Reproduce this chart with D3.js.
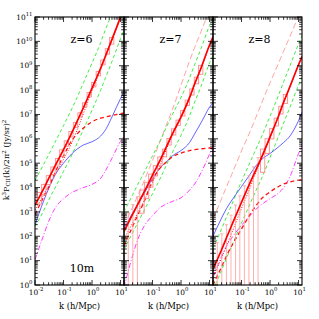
<!DOCTYPE html>
<html><head><meta charset="utf-8">
<script src="https://cdn.jsdelivr.net/npm/d3@7"></script>
<style>html,body{margin:0;padding:0;background:#fff}svg{display:block}</style>
</head><body>
<svg id="chart" width="319" height="319"></svg>
<script>
// ---------------- data ----------------
const panelLabels = ["z=6", "z=7", "z=8"];
const telescopeLabel = "10m";
const xTitle = "k (h/Mpc)";
const yTickExps = [0,1,2,3,4,5,6,7,8,9,10,11];
const xTickExps = [-2,-1,0,1];

// common k grid for the model curves (h/Mpc)
const kGrid = [0.01, 0.02, 0.03, 0.05, 0.1, 0.2, 0.3, 0.5, 1, 2, 3, 5, 10, 13.5];

// z = 6
const redSolid6  = [1.9e3, 8.9e3, 2.3e4, 7.6e4, 3.6e5, 1.9e6, 5.2e6, 1.9e7, 1.2e8, 7.9e8, 2.6e9, 1.2e10, 1.0e11, 2.5e11];
const redDotted6 = [1.2e3, 5.0e3, 1.2e4, 3.4e4, 1.4e5, 7.4e5, 2.3e6, 1.1e7, 9.3e7, 7.1e8, 2.5e9, 1.1e10, 9.5e10, 2.4e11];
const redDashed6 = [7.9e2, 4.0e3, 1.0e4, 4.0e4, 2.0e5, 8.9e5, 1.6e6, 2.8e6, 5.0e6, 7.1e6, 7.9e6, 9.1e6, 1.07e7, 1.15e7];
const greenHi6   = [2.0e4, 8.9e4, 2.2e5, 7.1e5, 3.5e6, 1.8e7, 5.0e7, 2.0e8, 1.3e9, 8.9e9, 3.2e10, 1.4e11, 1.0e12, 2.5e12];
const greenLo6   = [2.5e2, 1.1e3, 3.0e3, 9.5e3, 4.6e4, 2.3e5, 6.6e5, 2.4e6, 1.5e7, 1.0e8, 3.3e8, 1.5e9, 1.3e10, 3.2e10];
const blue6      = [2.9e2, 2.8e3, 8.9e3, 3.2e4, 1.0e5, 2.5e5, 3.8e5, 5.6e5, 7.6e5, 1.3e6, 2.4e6, 7.9e6, 4.5e7, 8.9e7];
const magenta6   = [11, 1.1e2, 4.0e2, 1.4e3, 3.5e3, 6.3e3, 7.9e3, 1.0e4, 1.35e4, 2.4e4, 5.0e4, 1.6e5, 7.9e5, 1.3e6];
const pink6      = [null, null, null, null, null, null, null, null, null, null, null, null, null, null];

// z = 7
const redSolid7  = [1.6e2, 7.9e2, 2.0e3, 6.3e3, 3.2e4, 1.6e5, 4.5e5, 1.6e6, 7.9e6, 5.0e7, 1.8e8, 7.9e8, 7.1e9, 1.6e10];
const redDotted7 = [79, 3.5e2, 8.9e2, 2.8e3, 1.6e4, 1.0e5, 3.5e5, 1.4e6, 7.4e6, 4.8e7, 1.7e8, 7.6e8, 6.8e9, 1.5e10];
const redDashed7 = [40, 2.5e2, 7.1e2, 2.5e3, 2.0e4, 7.1e4, 1.1e5, 1.8e5, 2.6e5, 3.3e5, 3.6e5, 3.9e5, 4.2e5, 4.3e5];
const greenHi7   = [1.0e3, 5.0e3, 1.3e4, 4.0e4, 2.0e5, 1.0e6, 2.8e6, 1.0e7, 5.0e7, 3.2e8, 1.1e9, 5.0e9, 4.5e10, 1.0e11];
const greenLo7   = [28, 1.4e2, 3.5e2, 1.1e3, 5.6e3, 2.8e4, 7.9e4, 2.8e5, 1.4e6, 8.9e6, 3.2e7, 1.4e8, 1.3e9, 2.8e9];
const blue7      = [2.1e2, 8.9e2, 2.0e3, 5.6e3, 2.3e4, 7.1e4, 1.1e5, 2.0e5, 3.3e5, 7.1e5, 1.6e6, 4.5e6, 2.0e7, 3.2e7];
const magenta7   = [0.8, 16, 71, 2.5e2, 7.1e2, 1.6e3, 2.1e3, 2.7e3, 3.8e3, 7.9e3, 1.4e4, 4.0e4, 2.4e5, 5.6e5];
const pink7      = [2.5e2, 1.6e3, 4.5e3, 1.8e4, 1.3e5, 1.0e6, 3.5e6, 1.6e7, 1.6e8, 1.6e9, 5.6e9, 2.5e10, 2.0e11, 5.0e11];

// z = 8
const redSolid8  = [4.5, 28, 89, 3.7e2, 2.5e3, 1.6e4, 4.5e4, 1.7e5, 1.2e6, 8.9e6, 3.2e7, 1.4e8, 1.1e9, 2.5e9];
const redDotted8 = [2.0, 13, 40, 1.8e2, 1.4e3, 1.0e4, 3.5e4, 1.5e5, 1.1e6, 8.5e6, 3.0e7, 1.35e8, 1.07e9, 2.4e9];
const redDashed8 = [1.0, 5.6, 16, 50, 2.0e2, 7.9e2, 1.6e3, 3.5e3, 6.6e3, 1.1e4, 1.4e4, 1.7e4, 2.0e4, 2.1e4];
const greenHi8   = [32, 2.0e2, 6.3e2, 2.6e3, 1.8e4, 1.1e5, 3.2e5, 1.2e6, 8.5e6, 6.3e7, 2.2e8, 1.0e9, 7.9e9, 1.8e10];
const greenLo8   = [0.63, 4.0, 13, 52, 3.5e2, 2.2e3, 6.3e3, 2.3e4, 1.7e5, 1.3e6, 4.5e6, 2.0e7, 1.6e8, 3.5e8];
const blue8      = [1.0e2, 5.6e2, 1.4e3, 3.5e3, 1.1e4, 3.5e4, 7.1e4, 1.4e5, 2.5e5, 4.7e5, 7.1e5, 1.3e6, 5.6e6, 1.3e7];
const magenta8   = [2.2, 15, 40, 1.0e2, 2.8e2, 7.1e2, 1.2e3, 2.0e3, 3.5e3, 6.0e3, 1.0e4, 2.8e4, 2.5e5, 5.6e5];
const pink8      = [5.0e2, 3.5e3, 1.1e4, 4.5e4, 3.2e5, 2.0e6, 6.3e6, 2.8e7, 2.0e8, 1.3e9, 4.0e9, 1.6e10, 1.1e11, 2.5e11];

// measured band powers (k bins) with relative errors
const binK  = [0.0141, 0.0204, 0.0295, 0.0427, 0.0617, 0.0871, 0.126, 0.182, 0.263, 0.380, 0.550, 0.794, 1.15, 1.66, 2.40, 3.47, 4.90];
const binP6 = [4.2e3, 9.3e3, 2.2e4, 5.2e4, 1.2e5, 2.7e5, 6.6e5, 1.6e6, 3.8e6, 9.8e6, 2.5e7, 6.6e7, 1.7e8, 4.8e8, 1.4e9, 4.0e9, 1.1e10];
const sig6  = [0.5, 0.45, 0.4, 0.35, 0.3, 0.3, 0.25, 0.25, 0.22, 0.2, 0.2, 0.2, 0.2, 0.2, 0.22, 0.25, 0.3];
const binP7 = [3.5e2, 8.3e2, 1.9e3, 4.4e3, 1.0e4, 2.3e4, 5.4e4, 1.3e5, 2.8e5, 7.9e5, 2.0e6, 4.7e6, 1.15e7, 3.1e7, 8.7e7, 2.6e8, 7.4e8];
const sig7  = [1.6, 1.4, 1.2, 0.8, 0.65, 0.55, 0.45, 0.4, 0.35, 0.3, 0.28, 0.25, 0.25, 0.25, 0.28, 0.3, 0.4];
const binP8 = [11, 30, 83, 2.3e2, 6.6e2, 1.7e3, 4.7e3, 1.3e4, 3.2e4, 8.1e4, 2.1e5, 6.3e5, 1.8e6, 5.2e6, 1.6e7, 4.7e7];
const sig8  = [4, 3.2, 2.6, 2.2, 1.9, 1.7, 1.5, 1.35, 1.2, 1.1, 0.8, 0.6, 0.45, 0.35, 0.35, 0.4];

// ---------------- layout / style ----------------
const panels = [
  {label: panelLabels[0], redSolid: redSolid6, redDotted: redDotted6, redDashed: redDashed6, greenHi: greenHi6, greenLo: greenLo6, blue: blue6, magenta: magenta6, pink: pink6, binP: binP6, sig: sig6},
  {label: panelLabels[1], redSolid: redSolid7, redDotted: redDotted7, redDashed: redDashed7, greenHi: greenHi7, greenLo: greenLo7, blue: blue7, magenta: magenta7, pink: pink7, binP: binP7, sig: sig7},
  {label: panelLabels[2], redSolid: redSolid8, redDotted: redDotted8, redDashed: redDashed8, greenHi: greenHi8, greenLo: greenLo8, blue: blue8, magenta: magenta8, pink: pink8, binP: binP8, sig: sig8}
];
const styles = {
  pink:      {stroke: "#ff8c8c", w: 0.8, dash: "6,3"},
  greenHi:   {stroke: "#44ee44", w: 1.0, dash: "3.5,2.5"},
  greenLo:   {stroke: "#44ee44", w: 1.0, dash: "3.5,2.5"},
  blue:      {stroke: "#2222ff", w: 0.7, dash: null},
  magenta:   {stroke: "#ff22ff", w: 0.9, dash: "5,2,1,2"},
  redDashed: {stroke: "#ff1010", w: 1.3, dash: "4,3"},
  redDotted: {stroke: "#ff1010", w: 1.0, dash: "1,1.6"},
  redSolid:  {stroke: "#ff0000", w: 1.7, dash: null}
};
const drawOrder = ["pink", "greenHi", "greenLo", "blue", "magenta", "redDashed", "redDotted"];

const serif = "'DejaVu Serif', 'Liberation Serif', serif";
const plotTop = 17, plotBottom = 285, panelLeft = 35, panelW = 89;
const svg = d3.select("#chart");
const y = d3.scaleLog().domain([1, 1e11]).range([plotBottom, plotTop]);

function addPow(sel, exp, size) {
  sel.append("tspan").text("10");
  sel.append("tspan").attr("dy", -size * 0.45).attr("font-size", size * 0.72).text(exp);
}

panels.forEach((p, i) => {
  const x0 = panelLeft + i * panelW;
  const x = d3.scaleLog().domain([0.01, 13.2]).range([x0, x0 + panelW]);
  const g = svg.append("g");
  const clipId = "clip" + i;
  svg.append("clipPath").attr("id", clipId).append("rect")
    .attr("x", x0).attr("y", plotTop).attr("width", panelW).attr("height", plotBottom - plotTop);
  const plot = g.append("g").attr("clip-path", `url(#${clipId})`);

  const line = d3.line()
    .defined(d => d.v != null)
    .x(d => x(d.k)).y(d => y(d.v))
    .curve(d3.curveMonotoneX);

  drawOrder.forEach(name => {
    const vals = p[name];
    const data = kGrid.map((k, j) => ({k, v: vals[j]}));
    if (data.every(d => d.v == null)) return;
    const st = styles[name];
    plot.append("path").attr("d", line(data))
      .attr("fill", "none").attr("stroke", st.stroke).attr("stroke-width", st.w)
      .attr("stroke-dasharray", st.dash);
  });

  // error bars / boxes
  p.binP.forEach((P, j) => {
    const k = binK[j], s = p.sig[j];
    const xl = x(k / 1.19), xr = x(k * 1.19), xc = x(k);
    if (s >= 1) {
      plot.append("line").attr("x1", xc).attr("x2", xc)
        .attr("y1", y(P * (1 + s))).attr("y2", plotBottom)
        .attr("stroke", "#ff9a9a").attr("stroke-width", 0.8);
      plot.append("line").attr("x1", xc - 1.6).attr("x2", xc + 1.6)
        .attr("y1", y(P * (1 + s))).attr("y2", y(P * (1 + s)))
        .attr("stroke", "#ff9a9a").attr("stroke-width", 0.8);
    } else {
      plot.append("rect").attr("x", xl).attr("width", xr - xl)
        .attr("y", y(P * (1 + s))).attr("height", y(P * (1 - s)) - y(P * (1 + s)))
        .attr("fill", "none").attr("stroke", "#ff8a8a").attr("stroke-width", 0.9);
    }
  });

  const rs = styles.redSolid;
  plot.append("path").attr("d", line(kGrid.map((k, j) => ({k, v: p.redSolid[j]}))))
    .attr("fill", "none").attr("stroke", rs.stroke).attr("stroke-width", rs.w);

  // frame
  g.append("rect").attr("x", x0).attr("y", plotTop).attr("width", panelW).attr("height", plotBottom - plotTop)
    .attr("fill", "none").attr("stroke", "#000").attr("stroke-width", 1.1);

  // x ticks (bottom and top, inward)
  x.ticks().forEach(t => {
    const major = Math.abs(Math.log10(t) - Math.round(Math.log10(t))) < 1e-6;
    const len = major ? 5 : 2.8;
    const xp = x(t);
    g.append("line").attr("x1", xp).attr("x2", xp).attr("y1", plotBottom).attr("y2", plotBottom - len).attr("stroke", "#000").attr("stroke-width", 0.8);
    g.append("line").attr("x1", xp).attr("x2", xp).attr("y1", plotTop).attr("y2", plotTop + len).attr("stroke", "#000").attr("stroke-width", 0.8);
  });
  // y ticks (left and right, inward)
  yTickExps.forEach(e => {
    for (let m = 1; m <= 9; m++) {
      const v = m * Math.pow(10, e);
      if (v > 1e11) break;
      const yp = y(v);
      const len = m === 1 ? 5 : 2.8;
      g.append("line").attr("x1", x0).attr("x2", x0 + len).attr("y1", yp).attr("y2", yp).attr("stroke", "#000").attr("stroke-width", 0.8);
      g.append("line").attr("x1", x0 + panelW).attr("x2", x0 + panelW - len).attr("y1", yp).attr("y2", yp).attr("stroke", "#000").attr("stroke-width", 0.8);
    }
  });

  // x tick labels
  xTickExps.forEach(e => {
    if (i > 0 && e === -2) return;
    const t = g.append("text").attr("x", x(Math.pow(10, e)) + 1).attr("y", 294.5)
      .attr("text-anchor", "middle").attr("font-family", serif).attr("font-size", 7.4);
    addPow(t, String(e), 7.4);
  });

  // x title
  g.append("text").attr("x", x0 + panelW / 2).attr("y", 308.5).attr("text-anchor", "middle")
    .attr("font-family", serif).attr("font-size", 8.4).text(xTitle);

  // panel label
  g.append("text").attr("x", x0 + panelW / 2 + 2).attr("y", 43).attr("text-anchor", "middle")
    .attr("font-family", serif).attr("font-size", 11).text(p.label);
});

// y tick labels
yTickExps.forEach(e => {
  const t = svg.append("text").attr("x", 32.5).attr("y", y(Math.pow(10, e)) + 2.7)
    .attr("text-anchor", "end").attr("font-family", serif).attr("font-size", 7.4);
  addPow(t, String(e), 7.4);
});

// telescope label
svg.append("text").attr("x", 82).attr("y", 272).attr("text-anchor", "middle")
  .attr("font-family", serif).attr("font-size", 11).text(telescopeLabel);

// y axis title
const yt = svg.append("text").attr("transform", "translate(8.5,160) rotate(-90)")
  .attr("text-anchor", "middle").attr("font-family", serif).attr("font-size", 8);
yt.append("tspan").text("k");
yt.append("tspan").attr("dy", -3).attr("font-size", 5.5).text("3");
yt.append("tspan").attr("dy", 3).text("P");
yt.append("tspan").attr("dy", 1.8).attr("font-size", 5.5).text("CII");
yt.append("tspan").attr("dy", -1.8).text("(k)/2π");
yt.append("tspan").attr("dy", -3).attr("font-size", 5.5).text("2");
yt.append("tspan").attr("dy", 3).text(" (Jy/sr)");
yt.append("tspan").attr("dy", -3).attr("font-size", 5.5).text("2");
</script>
</body></html>
